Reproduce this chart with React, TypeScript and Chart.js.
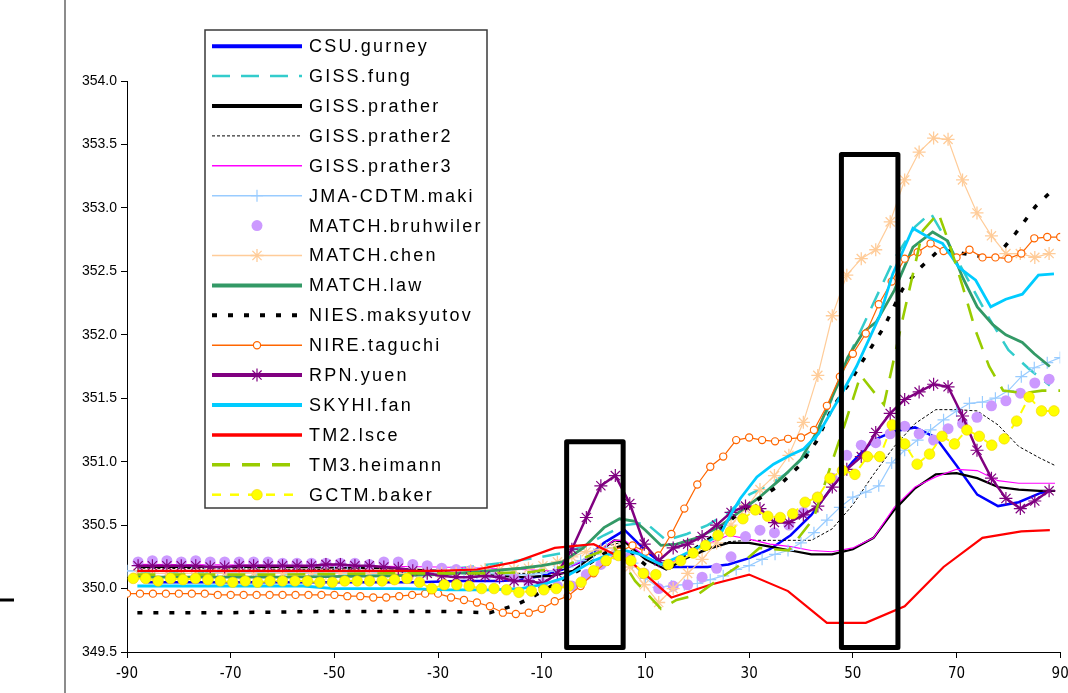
import React, { useEffect, useRef } from 'react';
import { Chart, registerables } from 'chart.js';

Chart.register(...registerables);

// Axis ticks
const X_TICKS = [-90, -70, -50, -30, -10, 10, 30, 50, 70, 90];
const Y_TICKS = [349.5, 350.0, 350.5, 351.0, 351.5, 352.0, 352.5, 353.0, 353.5, 354.0];

// Model latitude grids
const LAT_T42 = [
  -87.86, -85.10, -82.31, -79.53, -76.74, -73.95, -71.16, -68.37, -65.58, -62.79,
  -60.00, -57.21, -54.42, -51.63, -48.84, -46.04, -43.25, -40.46, -37.67, -34.88,
  -32.09, -29.30, -26.51, -23.72, -20.93, -18.14, -15.35, -12.56, -9.77, -6.98,
  -4.19, -1.40, 1.40, 4.19, 6.98, 9.77, 12.56, 15.35, 18.14, 20.93,
  23.72, 26.51, 29.30, 32.09, 34.88, 37.67, 40.46, 43.25, 46.04, 48.84,
  51.63, 54.42, 57.21, 60.00, 62.79, 65.58, 68.37, 71.16, 73.95, 76.74,
  79.53, 82.31, 85.10, 87.86,
];
const LAT_2P5 = [
  -90, -87.5, -85, -82.5, -80, -77.5, -75, -72.5, -70, -67.5,
  -65, -62.5, -60, -57.5, -55, -52.5, -50, -47.5, -45, -42.5,
  -40, -37.5, -35, -32.5, -30, -27.5, -25, -22.5, -20, -17.5,
  -15, -12.5, -10, -7.5, -5, -2.5, 0, 2.5, 5, 7.5,
  10, 12.5, 15, 17.5, 20, 22.5, 25, 27.5, 30, 32.5,
  35, 37.5, 40, 42.5, 45, 47.5, 50, 52.5, 55, 57.5,
  60, 62.5, 65, 67.5, 70, 72.5, 75, 77.5, 80, 82.5,
  85, 87.5, 90,
];
const LAT_2P4 = [
  -88.8, -86.4, -84.0, -81.6, -79.2, -76.8, -74.4, -72.0, -69.6, -67.2,
  -64.8, -62.4, -60.0, -57.6, -55.2, -52.8, -50.4, -48.0, -45.6, -43.2,
  -40.8, -38.4, -36.0, -33.6, -31.2, -28.8, -26.4, -24.0, -21.6, -19.2,
  -16.8, -14.4, -12.0, -9.6, -7.2, -4.8, -2.4, 0.0, 2.4, 4.8,
  7.2, 9.6, 12.0, 14.4, 16.8, 19.2, 21.6, 24.0, 26.4, 28.8,
  31.2, 33.6, 36.0, 38.4, 40.8, 43.2, 45.6, 48.0, 50.4, 52.8,
  55.2, 57.6, 60.0, 62.4, 64.8, 67.2, 69.6, 72.0, 74.4, 76.8,
  79.2, 81.6, 84.0, 86.4, 88.8,
];

// Zonal mean CO2 (ppm) per model
const CSU_LAT = [-86, -70, -50, -34, -26, -18, -14, -10, -6, -2, 2, 6, 10, 14, 18, 22, 26, 30, 34, 38, 42, 46, 50, 54, 58, 62, 66, 70, 74, 78, 82, 86, 88];
const CSU_PPM = [350.05, 350.05, 350.05, 350.05, 350.06, 350.06, 350.07, 350.1, 350.15, 350.22, 350.36, 350.46, 350.3, 350.17, 350.17, 350.17, 350.19, 350.24, 350.31, 350.42, 350.58, 350.8, 351.0, 351.17, 351.24, 351.27, 351.19, 350.97, 350.74, 350.65, 350.68, 350.75, 350.77];

const FUNG_LAT = [-88, -60, -40, -30, -26, -18, -10, -6, -2, 2, 6, 10, 14, 18, 22, 26, 30, 34, 38, 42, 46, 50, 54, 58, 62, 65, 68, 72, 76, 80, 84, 88];
const FUNG_PPM = [350.12, 350.12, 350.12, 350.14, 350.16, 350.2, 350.25, 350.28, 350.33, 350.42, 350.5, 350.52, 350.38, 350.43, 350.5, 350.6, 350.74, 350.82, 350.93, 351.1, 351.5, 351.9, 352.25, 352.6, 352.85, 352.96, 352.75, 352.45, 352.15, 351.88, 351.73, 351.6];

const PRATHER_LAT = [-88, -60, -40, -30, -22, -14, -8, -4, 0, 4, 6, 10, 14, 18, 22, 26, 30, 34, 38, 42, 46, 50, 54, 58, 62, 66, 70, 74, 78, 82, 86, 89];
const PRATHER_PPM = [350.17, 350.17, 350.16, 350.14, 350.11, 350.09, 350.1, 350.14, 350.26, 350.38, 350.37, 350.23, 350.15, 350.24, 350.31, 350.36, 350.36, 350.33, 350.3, 350.27, 350.27, 350.31, 350.4, 350.62, 350.79, 350.9, 350.91, 350.87, 350.8, 350.78, 350.77, 350.77];

const PRATHER2_LAT = [-88, -50, -30, -20, -12, -6, -2, 2, 6, 10, 14, 18, 22, 26, 30, 34, 38, 42, 46, 50, 54, 58, 62, 66, 70, 74, 78, 82, 86, 89];
const PRATHER2_PPM = [350.16, 350.15, 350.13, 350.12, 350.12, 350.15, 350.22, 350.33, 350.37, 350.25, 350.17, 350.25, 350.32, 350.37, 350.38, 350.38, 350.38, 350.38, 350.47, 350.66, 350.9, 351.12, 351.3, 351.41, 351.41, 351.4, 351.29, 351.12, 351.03, 350.97];

const PRATHER3_LAT = [-88, -50, -30, -20, -14, -8, -4, 0, 4, 6, 10, 14, 18, 22, 26, 30, 34, 38, 42, 46, 50, 54, 58, 62, 66, 70, 74, 78, 82, 86, 89];
const PRATHER3_PPM = [350.19, 350.18, 350.17, 350.16, 350.15, 350.14, 350.18, 350.27, 350.38, 350.38, 350.25, 350.18, 350.27, 350.35, 350.42, 350.39, 350.35, 350.33, 350.3, 350.29, 350.32, 350.4, 350.64, 350.8, 350.88, 350.94, 350.93, 350.85, 350.83, 350.83, 350.83];

const MAKI_PPM = [
  350.14, 350.14, 350.14, 350.14, 350.14, 350.14, 350.14, 350.13, 350.13, 350.13,
  350.13, 350.13, 350.13, 350.13, 350.13, 350.13, 350.13, 350.13, 350.13, 350.13,
  350.14, 350.14, 350.13, 350.13, 350.13, 350.13, 350.12, 350.12, 350.12, 350.11,
  350.11, 350.11, 350.12, 350.14, 350.17, 350.22, 350.27, 350.32, 350.3, 350.2,
  350.08, 350.01, 350.02, 350.03, 350.04, 350.07, 350.1, 350.15, 350.18, 350.23,
  350.27, 350.3, 350.36, 350.44, 350.54, 350.64, 350.72, 350.76, 350.81, 350.99,
  351.09, 351.17, 351.25, 351.33, 351.4, 351.46, 351.47, 351.5, 351.56, 351.67,
  351.74, 351.78, 351.82,
];

const BRUHWILER_PPM = [
  350.21, 350.22, 350.22, 350.21, 350.22, 350.21, 350.21, 350.21, 350.21, 350.21,
  350.2, 350.2, 350.2, 350.2, 350.2, 350.2, 350.19, 350.21, 350.21, 350.19,
  350.18, 350.16, 350.15, 350.14, 350.12, 350.1, 350.08, 350.06, 350.04, 350.02,
  350.02, 350.11, 350.19, 350.27, 350.25, 350.12, 350.0, 350.02, 350.03, 350.09,
  350.16, 350.25, 350.41, 350.46, 350.44, 350.5, 350.6, 350.72, 350.87, 351.05,
  351.13, 351.15, 351.22, 351.28, 351.22, 351.17, 351.26, 351.3, 351.35, 351.44,
  351.48, 351.54, 351.62, 351.65,
];

const CHEN_PPM = [
  350.12, 350.12, 350.12, 350.12, 350.12, 350.12, 350.12, 350.12, 350.12, 350.12,
  350.12, 350.12, 350.12, 350.12, 350.12, 350.12, 350.12, 350.12, 350.12, 350.12,
  350.12, 350.12, 350.12, 350.14, 350.15, 350.15, 350.15, 350.16, 350.18, 350.21,
  350.25, 350.29, 350.31, 350.32, 350.17, 350.03, 349.89, 350.0, 350.12, 350.23,
  350.36, 350.5, 350.63, 350.78, 350.89, 351.05, 351.31, 351.68, 352.15, 352.47,
  352.6, 352.67, 352.89, 353.22, 353.44, 353.55, 353.54, 353.22, 352.96, 352.78,
  352.64, 352.64, 352.61, 352.64,
];

const LAW_LAT = [-88, -60, -40, -30, -20, -14, -10, -6, -2, 2, 5, 8, 10, 13, 16, 20, 24, 28, 32, 36, 40, 43, 47, 49, 52, 54.5, 58, 61.6, 65.4, 68.3, 71.2, 74, 77, 79.5, 82.7, 85, 88];
const LAW_PPM = [350.09, 350.09, 350.1, 350.11, 350.14, 350.16, 350.18, 350.21, 350.32, 350.48, 350.55, 350.53, 350.46, 350.34, 350.35, 350.4, 350.48, 350.6, 350.72, 350.86, 351.02, 351.23, 351.6, 351.82, 352.02, 352.1, 352.35, 352.69, 352.81, 352.74, 352.45, 352.22, 352.08, 352.0, 351.94, 351.85, 351.75];

const MAKSYUTOV_LAT = [-88, -70, -50, -30, -20, -15, -12, -9, -6, -3, 0, 3, 6, 9, 12, 15, 19, 23, 27, 32, 36, 40, 43, 46, 49, 52, 56, 59.6, 62.8, 66.7, 70, 74, 77.6, 81.4, 85.2, 88.8];
const MAKSYUTOV_PPM = [349.81, 349.81, 349.82, 349.82, 349.81, 349.87, 349.93, 350.0, 350.07, 350.14, 350.22, 350.3, 350.34, 350.22, 350.12, 350.17, 350.3, 350.41, 350.56, 350.71, 350.82, 350.98, 351.16, 351.42, 351.6, 351.8, 352.06, 352.36, 352.52, 352.67, 352.65, 352.62, 352.61, 352.8, 353.01, 353.15];

const TAGUCHI_PPM = [
  349.96, 349.96, 349.96, 349.96, 349.96, 349.96, 349.96, 349.95, 349.95, 349.95,
  349.95, 349.95, 349.95, 349.95, 349.95, 349.95, 349.95, 349.94, 349.94, 349.93,
  349.93, 349.94, 349.95, 349.96, 349.96, 349.93, 349.91, 349.89, 349.86, 349.81,
  349.8, 349.81, 349.84, 349.9, 349.94, 350.02, 350.12, 350.21, 350.29, 350.34,
  350.29, 350.26, 350.43, 350.63, 350.82, 350.96, 351.04, 351.17, 351.19, 351.17,
  351.16, 351.18, 351.19, 351.25, 351.44, 351.67, 351.85, 352.01, 352.24, 352.42,
  352.6, 352.65, 352.72, 352.66, 352.61, 352.67, 352.61, 352.61, 352.6, 352.64,
  352.76, 352.77, 352.77,
];

const YUEN_PPM = [
  350.18, 350.18, 350.18, 350.18, 350.18, 350.17, 350.17, 350.18, 350.18, 350.18,
  350.18, 350.18, 350.18, 350.19, 350.19, 350.18, 350.18, 350.17, 350.16, 350.14,
  350.12, 350.1, 350.09, 350.09, 350.1, 350.09, 350.06, 350.06, 350.04, 350.12,
  350.31, 350.56, 350.81, 350.89, 350.67, 350.35, 350.22, 350.32, 350.35, 350.41,
  350.5, 350.6, 350.65, 350.63, 350.52, 350.52, 350.58, 350.65, 350.8, 350.94,
  351.04, 351.23, 351.38, 351.49, 351.55, 351.61, 351.59, 351.36, 351.09, 350.87,
  350.71, 350.63, 350.69, 350.77,
];

const FAN_LAT = [-88, -56, -50, -36, -28, -20, -14, -10, -6, -3, 0, 3, 6, 9, 13, 17, 20, 24.5, 26.4, 28.3, 31.5, 34.7, 37.9, 40.5, 43.4, 47.5, 50.7, 55.2, 57.7, 61.6, 64.5, 67.3, 70.5, 73.7, 76.6, 79.5, 82.7, 85.8, 88.8];
const FAN_PPM = [350.02, 350.02, 350.0, 350.0, 349.99, 349.99, 350.0, 350.03, 350.08, 350.15, 350.22, 350.27, 350.3, 350.27, 350.19, 350.26, 350.32, 350.43, 350.58, 350.71, 350.88, 350.98, 351.05, 351.1, 351.22, 351.51, 351.75, 352.15, 352.48, 352.84, 352.77, 352.72, 352.53, 352.43, 352.22, 352.28, 352.32, 352.47, 352.48];

const LSCE_LAT = [-88, -82.5, -75, -67.5, -60, -52.5, -45, -37.5, -30, -22.5, -15, -7.5, 0, 7.5, 15, 22.5, 30, 37.5, 45, 52.5, 60, 67.5, 75, 82.5, 88];
const LSCE_PPM = [350.14, 350.14, 350.14, 350.14, 350.14, 350.14, 350.14, 350.14, 350.14, 350.15, 350.21, 350.32, 350.35, 350.2, 349.93, 350.03, 350.11, 349.98, 349.73, 349.73, 349.86, 350.17, 350.4, 350.45, 350.46];

const HEIMANN_LAT = [-88, -60, -40, -30, -20, -12, -6, -2, 2, 4, 8, 13, 16, 20, 24, 28, 32, 37.6, 42.4, 46, 48.5, 51.5, 56, 59.7, 63.5, 66.5, 68.6, 71.2, 73.7, 76.3, 79, 83, 86.5, 90];
const HEIMANN_PPM = [350.11, 350.11, 350.12, 350.12, 350.12, 350.13, 350.17, 350.24, 350.3, 350.32, 350.06, 349.84, 349.91, 349.95, 350.07, 350.18, 350.32, 350.3, 350.55, 351.0, 351.3, 351.68, 351.45, 352.14, 352.82, 352.96, 352.72, 352.38, 352.03, 351.75, 351.56, 351.54, 351.56, 351.56];

const BAKER_PPM = [
  350.08, 350.08, 350.06, 350.08, 350.07, 350.08, 350.07, 350.06, 350.05, 350.06,
  350.05, 350.06, 350.06, 350.06, 350.06, 350.05, 350.05, 350.06, 350.06, 350.06,
  350.06, 350.07, 350.08, 350.05, 350.0, 350.03, 350.03, 350.02, 350.0, 350.0,
  349.99, 349.97, 349.98, 349.99, 350.0, 350.02, 350.05, 350.14, 350.22, 350.26,
  350.22, 350.12, 350.11, 350.19, 350.22, 350.28, 350.34, 350.42, 350.45, 350.55,
  350.62, 350.57, 350.56, 350.59, 350.68, 350.72, 350.87, 350.93, 350.9, 351.04,
  351.04, 351.29, 351.14, 350.98, 351.06, 351.2, 351.14, 351.25, 351.2, 351.13,
  351.18, 351.32, 351.51, 351.4, 351.4,
];

// Highlighted latitude bands: [lat from, lat to, ppm bottom, ppm top]
const BAND_TROPICS = [-5.2, 5.7, 349.535, 351.157];
const BAND_NORTH = [47.8, 58.7, 349.535, 353.42];

type Marker = { style: string; radius: number; fill: string; stroke: string; width: number };
type Series = {
  label: string;
  lat: number[];
  ppm: number[];
  color: string;
  width: number;
  legendWidth: number;
  dash?: number[];
  noLine?: boolean;
  marker?: Marker;
};

const SERIES: Series[] = [
  { label: 'CSU.gurney', lat: CSU_LAT, ppm: CSU_PPM, color: '#0000FF', width: 2.5, legendWidth: 4 },
  { label: 'GISS.fung', lat: FUNG_LAT, ppm: FUNG_PPM, color: '#33CCCC', width: 2.5, legendWidth: 2.5, dash: [18, 11] },
  { label: 'GISS.prather', lat: PRATHER_LAT, ppm: PRATHER_PPM, color: '#000000', width: 2.2, legendWidth: 4 },
  { label: 'GISS.prather2', lat: PRATHER2_LAT, ppm: PRATHER2_PPM, color: '#000000', width: 1, legendWidth: 1, dash: [3, 2] },
  { label: 'GISS.prather3', lat: PRATHER3_LAT, ppm: PRATHER3_PPM, color: '#FF00FF', width: 1.2, legendWidth: 1.5 },
  { label: 'JMA-CDTM.maki', lat: LAT_2P5, ppm: MAKI_PPM, color: '#99CCFF', width: 1.2, legendWidth: 1.5,
    marker: { style: 'cross', radius: 6, fill: '#99CCFF', stroke: '#99CCFF', width: 1.2 } },
  { label: 'MATCH.bruhwiler', lat: LAT_T42, ppm: BRUHWILER_PPM, color: '#CC99FF', width: 0, legendWidth: 0, noLine: true,
    marker: { style: 'circle', radius: 5.5, fill: '#CC99FF', stroke: '#CC99FF', width: 0 } },
  { label: 'MATCH.chen', lat: LAT_T42, ppm: CHEN_PPM, color: '#FFCC99', width: 1.2, legendWidth: 1.5,
    marker: { style: 'star', radius: 6.5, fill: '#FFCC99', stroke: '#FFCC99', width: 1.3 } },
  { label: 'MATCH.law', lat: LAW_LAT, ppm: LAW_PPM, color: '#339966', width: 2.8, legendWidth: 4 },
  { label: 'NIES.maksyutov', lat: MAKSYUTOV_LAT, ppm: MAKSYUTOV_PPM, color: '#000000', width: 3.5, legendWidth: 4, dash: [5, 11] },
  { label: 'NIRE.taguchi', lat: LAT_2P5, ppm: TAGUCHI_PPM, color: '#FF6600', width: 1.2, legendWidth: 1.5,
    marker: { style: 'circle', radius: 3.6, fill: '#FFFFFF', stroke: '#FF6600', width: 1.2 } },
  { label: 'RPN.yuen', lat: LAT_T42, ppm: YUEN_PPM, color: '#800080', width: 2.5, legendWidth: 4,
    marker: { style: 'star', radius: 6.5, fill: '#800080', stroke: '#800080', width: 1.2 } },
  { label: 'SKYHI.fan', lat: FAN_LAT, ppm: FAN_PPM, color: '#00CCFF', width: 2.8, legendWidth: 4 },
  { label: 'TM2.lsce', lat: LSCE_LAT, ppm: LSCE_PPM, color: '#FF0000', width: 2.2, legendWidth: 3.5 },
  { label: 'TM3.heimann', lat: HEIMANN_LAT, ppm: HEIMANN_PPM, color: '#99CC00', width: 2.6, legendWidth: 3.5, dash: [18, 12] },
  { label: 'GCTM.baker', lat: LAT_2P4, ppm: BAKER_PPM, color: '#FFFF00', width: 2, legendWidth: 2.5, dash: [9, 9],
    marker: { style: 'circle', radius: 5.3, fill: '#FFFF00', stroke: '#F2D200', width: 0.6 } },
];

function drawMarker(ctx: CanvasRenderingContext2D, m: Marker, x: number, y: number) {
  ctx.save();
  ctx.setLineDash([]);
  ctx.lineWidth = m.width;
  ctx.strokeStyle = m.stroke;
  ctx.fillStyle = m.fill;
  ctx.beginPath();
  const r = m.radius;
  if (m.style === 'circle') {
    ctx.arc(x, y, r, 0, Math.PI * 2);
    ctx.fill();
    if (m.width > 0) ctx.stroke();
  } else if (m.style === 'cross') {
    ctx.moveTo(x - r, y); ctx.lineTo(x + r, y);
    ctx.moveTo(x, y - r); ctx.lineTo(x, y + r);
    ctx.stroke();
  } else {
    const d = r * Math.SQRT1_2;
    ctx.moveTo(x - r, y); ctx.lineTo(x + r, y);
    ctx.moveTo(x, y - r); ctx.lineTo(x, y + r);
    ctx.moveTo(x - d, y - d); ctx.lineTo(x + d, y + d);
    ctx.moveTo(x - d, y + d); ctx.lineTo(x + d, y - d);
    ctx.stroke();
  }
  ctx.restore();
}

// Boxed legend in the upper-left of the plot
const boxLegend = {
  id: 'boxLegend',
  afterDraw(chart: any) {
    const ctx: CanvasRenderingContext2D = chart.ctx;
    const left = 205, top = 30, right = 487, bottom = 508;
    const rowTop = 46.2, rowStep = 29.9;
    ctx.save();
    ctx.fillStyle = '#FFFFFF';
    ctx.fillRect(left, top, right - left, bottom - top);
    ctx.strokeStyle = '#3A3A3A';
    ctx.lineWidth = 1.5;
    ctx.strokeRect(left, top, right - left, bottom - top);
    SERIES.forEach((s, i) => {
      const y = rowTop + i * rowStep;
      if (!s.noLine) {
        ctx.save();
        ctx.beginPath();
        ctx.setLineDash(s.dash || []);
        ctx.strokeStyle = s.color;
        ctx.lineWidth = s.legendWidth;
        ctx.moveTo(212, y);
        ctx.lineTo(302, y);
        ctx.stroke();
        ctx.restore();
      }
      if (s.marker) drawMarker(ctx, s.marker, 257, y);
      ctx.fillStyle = '#000000';
      ctx.font = '18px "Liberation Sans", Arial, sans-serif';
      (ctx as any).letterSpacing = '2.2px';
      ctx.textBaseline = 'middle';
      ctx.textAlign = 'left';
      ctx.fillText(s.label, 309, y + 1);
      (ctx as any).letterSpacing = '0px';
    });
    ctx.restore();
  },
};

// Latitude bands and the page rules
const bandsAndRules = {
  id: 'bandsAndRules',
  afterDatasetsDraw(chart: any) {
    const ctx: CanvasRenderingContext2D = chart.ctx;
    const xs = chart.scales.x, ys = chart.scales.y;
    ctx.save();
    ctx.strokeStyle = '#000000';
    ctx.lineWidth = 5;
    ctx.lineJoin = 'round';
    [BAND_TROPICS, BAND_NORTH].forEach(([a, b, lo, hi]) => {
      const x0 = xs.getPixelForValue(a), x1 = xs.getPixelForValue(b);
      const y0 = ys.getPixelForValue(hi), y1 = ys.getPixelForValue(lo);
      ctx.strokeRect(x0, y0, x1 - x0, y1 - y0);
    });
    ctx.restore();
  },
  afterDraw(chart: any) {
    const ctx: CanvasRenderingContext2D = chart.ctx;
    ctx.save();
    ctx.strokeStyle = '#8C8C8C';
    ctx.lineWidth = 2;
    ctx.beginPath();
    ctx.moveTo(65, 0);
    ctx.lineTo(65, chart.height);
    ctx.stroke();
    ctx.strokeStyle = '#000000';
    ctx.lineWidth = 3;
    ctx.beginPath();
    ctx.moveTo(0, 600);
    ctx.lineTo(14, 600);
    ctx.stroke();
    ctx.restore();
  },
};

export default function App() {
  const canvasRef = useRef<HTMLCanvasElement | null>(null);

  useEffect(() => {
    if (!canvasRef.current) return;
    const n = SERIES.length;
    const datasets = SERIES.map((s, i) => ({
      label: s.label,
      data: s.lat.map((x, k) => ({ x, y: s.ppm[k] })),
      borderColor: s.color,
      backgroundColor: s.color,
      borderWidth: s.width,
      borderDash: s.dash || [],
      showLine: !s.noLine,
      tension: 0,
      fill: false,
      order: n - i,
      pointStyle: s.marker ? s.marker.style : 'circle',
      pointRadius: s.marker ? s.marker.radius : 0,
      pointHoverRadius: s.marker ? s.marker.radius : 0,
      pointBackgroundColor: s.marker ? s.marker.fill : s.color,
      pointBorderColor: s.marker ? s.marker.stroke : s.color,
      pointBorderWidth: s.marker ? s.marker.width : 0,
    }));

    const chart = new Chart(canvasRef.current, {
      type: 'line',
      data: { datasets },
      plugins: [bandsAndRules, boxLegend],
      options: {
        animation: false,
        responsive: false,
        maintainAspectRatio: false,
        layout: { padding: { left: 0, top: 81, right: 3, bottom: 0 } },
        plugins: { legend: { display: false }, tooltip: { enabled: false }, title: { display: false } },
        scales: {
          x: {
            type: 'linear',
            min: -90,
            max: 90,
            afterBuildTicks: (scale: any) => { scale.ticks = X_TICKS.map((v) => ({ value: v })); },
            afterFit: (scale: any) => { scale.height = 41; scale.paddingLeft = 0; scale.paddingRight = 0; },
            grid: { drawOnChartArea: false, drawTicks: true, tickLength: 6, color: '#000000', lineWidth: 1 },
            border: { display: true, color: '#000000', width: 1 },
            ticks: {
              autoSkip: false,
              maxRotation: 0,
              padding: 7,
              color: '#000000',
              font: { family: '"DejaVu Sans Condensed", "Liberation Sans", Arial, sans-serif', size: 15 },
              callback: (v: any) => String(v),
            },
          },
          y: {
            type: 'linear',
            min: 349.5,
            max: 354,
            afterBuildTicks: (scale: any) => { scale.ticks = Y_TICKS.map((v) => ({ value: v })); },
            afterFit: (scale: any) => { scale.width = 127; scale.paddingTop = 0; scale.paddingBottom = 0; },
            grid: { drawOnChartArea: false, drawTicks: true, tickLength: 6, color: '#000000', lineWidth: 1 },
            border: { display: true, color: '#000000', width: 1 },
            ticks: {
              autoSkip: false,
              padding: 4,
              color: '#000000',
              font: { family: '"Liberation Sans", Arial, sans-serif', size: 14 },
              callback: (v: any) => Number(v).toFixed(1),
            },
          },
        },
      },
    } as any);

    return () => chart.destroy();
  }, []);

  return (
    <div style={{ position: 'absolute', left: 0, top: 0, width: 1068, height: 693, background: '#FFFFFF' }}>
      <canvas ref={canvasRef} width={1068} height={693} style={{ display: 'block', width: 1068, height: 693 }} />
    </div>
  );
}
